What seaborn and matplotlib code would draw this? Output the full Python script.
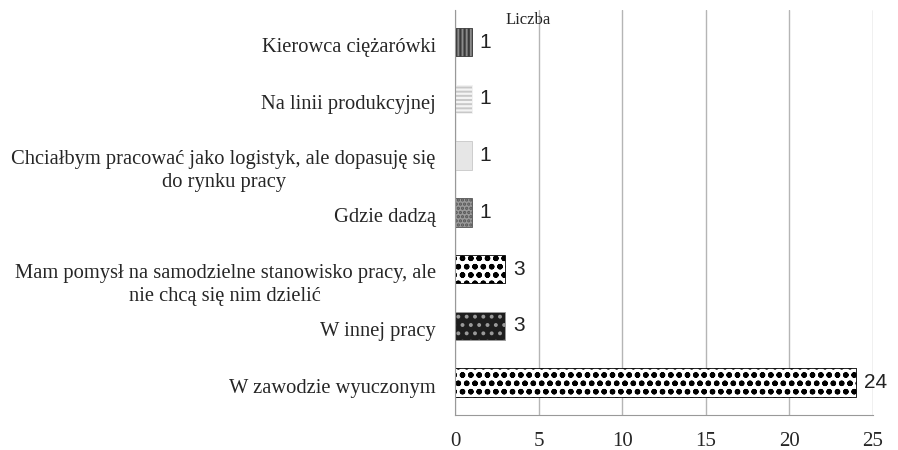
import numpy as np
import pandas as pd
import seaborn as sns
import matplotlib.pyplot as plt
import matplotlib.transforms as mtransforms

# dane
kategorie = [
    'Kierowca ciężarówki',
    'Na linii produkcyjnej',
    'Chciałbym pracować jako logistyk, ale dopasuję się\ndo rynku pracy',
    'Gdzie dadzą',
    'Mam pomysł na samodzielne stanowisko pracy, ale\nnie chcą się nim dzielić',
    'W innej pracy',
    'W zawodzie wyuczonym',
]
liczba = [1, 1, 1, 1, 3, 3, 24]
kolory = ['#8a8a8a', '#c8c8c8', '#e6e6e6', '#9a9a9a', '#ffffff', '#1e1e1e', '#ffffff']
wzory = ['||||', '----', '', '....', 'oo', '..', 'oo']
krawedzie = ['#3a3a3a', '#f4f4f4', '#c8c8c8', '#555555', '#000000', '#9a9a9a', '#000000']
x_ticks = [0, 5, 10, 15, 20, 25]

df = pd.DataFrame({'kategoria': kategorie, 'liczba': liczba})

sns.set_style('white')
plt.rcParams['font.family'] = ['Liberation Serif', 'DejaVu Serif']
plt.rcParams['hatch.linewidth'] = 1.6

fig = plt.figure(figsize=(8.98, 4.5), dpi=100)
ax = fig.add_axes([0.507, 0.078, 0.465, 0.9])

sns.barplot(data=df, x='liczba', y='kategoria', hue='kategoria',
            palette=kolory, orient='h', width=0.5, legend=False, ax=ax)

for bar, w, e in zip(ax.patches, wzory, krawedzie):
    bar.set_hatch(w)
    bar.set_edgecolor(e)
    bar.set_linewidth(0.6)

for i, v in enumerate(liczba):
    ax.text(v + 0.45, i, str(v), va='center', ha='left', fontsize=15,
            family=['Liberation Sans', 'DejaVu Sans'], color='#222222')

ax.set_xlim(0, 25)
ax.set_ylim(6.57, -0.57)
ax.set_xticks(x_ticks)
ax.xaxis.grid(True, color='#b5b5b5', linewidth=1)
ax.set_axisbelow(True)
ax.set_xlabel('')
ax.set_ylabel('')
for s in ['top', 'right']:
    ax.spines[s].set_visible(False)
ax.spines['left'].set_color('#999999')
ax.spines['bottom'].set_color('#999999')
ax.tick_params(axis='x', labelsize=15, length=4, color='#999999', pad=8)
ax.tick_params(axis='y', labelsize=14.8, length=0, pad=14)

# etykiety dwuwierszowe są w oryginale przesunięte w dół
for lab in ax.get_yticklabels():
    lab.set_multialignment('center')
    lab.set_linespacing(1.3)
    dy = -11 if '\n' in lab.get_text() else -3
    lab.set_transform(lab.get_transform() +
                      mtransforms.ScaledTranslation(0, dy / 100, fig.dpi_scale_trans))

ax.text(0.12, 0.975, 'Liczba', transform=ax.transAxes, fontsize=12, ha='left', va='center')

fig.savefig('out.png', dpi=100)
